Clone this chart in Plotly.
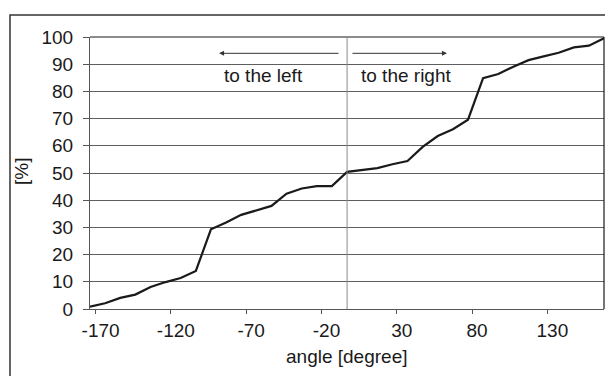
import plotly.graph_objects as go

# data
angle = [-173.7, -163.7, -153.6, -143.6, -133.5, -123.5, -113.5, -103.4, -93.4, -83.3,
         -73.3, -63.3, -53.2, -43.2, -33.1, -23.1, -13.1, -3.0, 7.0, 17.1,
         27.1, 37.1, 47.2, 57.2, 67.3, 77.3, 87.3, 97.4, 107.4, 117.5,
         127.5, 137.5, 147.6, 157.6, 167.6]
percent = [0.9, 2.1, 4.1, 5.3, 8.1, 9.9, 11.4, 14.0, 29.3, 31.8,
           34.6, 36.2, 37.9, 42.4, 44.3, 45.2, 45.2, 50.4, 51.0, 51.8,
           53.2, 54.4, 59.6, 63.6, 66.1, 69.6, 84.9, 86.4, 89.1, 91.5,
           92.9, 94.2, 96.2, 96.8, 99.5]
x_ticks = [-170, -120, -70, -20, 30, 80, 130]
y_ticks = [0, 10, 20, 30, 40, 50, 60, 70, 80, 90, 100]
x_range = [-173.7, 167.6]
y_range = [0, 100]
center_angle = -3.0
arrow_y = 94.0
left_arrow = (-7.7, -88.0)
right_arrow = (-0.4, 63.3)
label_y = 86.0
left_label_x = -58.8
right_label_x = 36.1

FONT = "Liberation Sans, Arial, sans-serif"

# page body has an 8px default margin; figure is sized to fill the remaining window
PW, PH = 514, 272  # plot-area size in px

fig = go.Figure()
fig.add_trace(go.Scatter(x=angle, y=percent, mode="lines",
                         line=dict(color="#1a1a1a", width=2.2), showlegend=False,
                         hoverinfo="skip"))

fig.update_layout(
    width=605, height=368,
    margin=dict(l=82, r=9, t=29, b=67),
    paper_bgcolor="white", plot_bgcolor="white",
    font=dict(family=FONT, size=19, color="#1a1a1a"),
    xaxis=dict(range=x_range, tickvals=x_ticks, ticktext=[str(v) for v in x_ticks],
               showgrid=False, zeroline=False, showline=True, linecolor="#555",
               linewidth=1, ticks="outside", ticklen=4, tickcolor="#555",
               ticklabelshift=5, tickfont=dict(size=19)),
    yaxis=dict(range=y_range, tickvals=y_ticks, showgrid=True, gridcolor="#5e5e5e",
               gridwidth=1, zeroline=False, showline=True, linecolor="#555",
               linewidth=1, ticks="outside", ticklen=6, tickcolor="#555",
               ticklabelstandoff=6, tickfont=dict(size=19)),
)

# plot area top / right border
fig.add_shape(type="line", xref="paper", yref="paper", x0=0, x1=1, y0=1, y1=1,
              line=dict(color="#1a1a1a", width=1.2))
fig.add_shape(type="line", xref="paper", yref="paper", x0=1, x1=1, y0=0, y1=1,
              line=dict(color="#1a1a1a", width=1.2))
# vertical reference line
fig.add_shape(type="line", xref="x", yref="y", x0=center_angle, x1=center_angle,
              y0=y_range[0], y1=y_range[1], line=dict(color="#8a8a8a", width=1))
# outer chart border (cut off at right and bottom)
fig.add_shape(type="rect", xref="paper", yref="paper",
              x0=-80 / PW, x1=540 / PW,
              y0=-85 / PH, y1=294 / PH,
              line=dict(color="#333", width=1.5))

# arrows
for tail, head in [left_arrow, right_arrow]:
    fig.add_annotation(x=head, y=arrow_y, ax=tail, ay=arrow_y, xref="x", yref="y",
                       axref="x", ayref="y", text="", showarrow=True,
                       arrowhead=2, arrowsize=1, arrowwidth=1, arrowcolor="#333")

fig.add_annotation(x=left_label_x, y=label_y, text="to the left", showarrow=False,
                   xref="x", yref="y", font=dict(size=19))
fig.add_annotation(x=right_label_x, y=label_y, text="to the right", showarrow=False,
                   xref="x", yref="y", font=dict(size=19))

# axis titles
fig.add_annotation(x=257 / PW, y=-47 / PH, xref="paper", yref="paper",
                   text="angle [degree]", showarrow=False, font=dict(size=19),
                   xanchor="center", yanchor="middle")
fig.add_annotation(x=-69 / PW, y=137 / PH, xref="paper", yref="paper",
                   text="[%]", showarrow=False, font=dict(size=19), textangle=-90,
                   xanchor="center", yanchor="middle")

fig.write_html("out.html")
